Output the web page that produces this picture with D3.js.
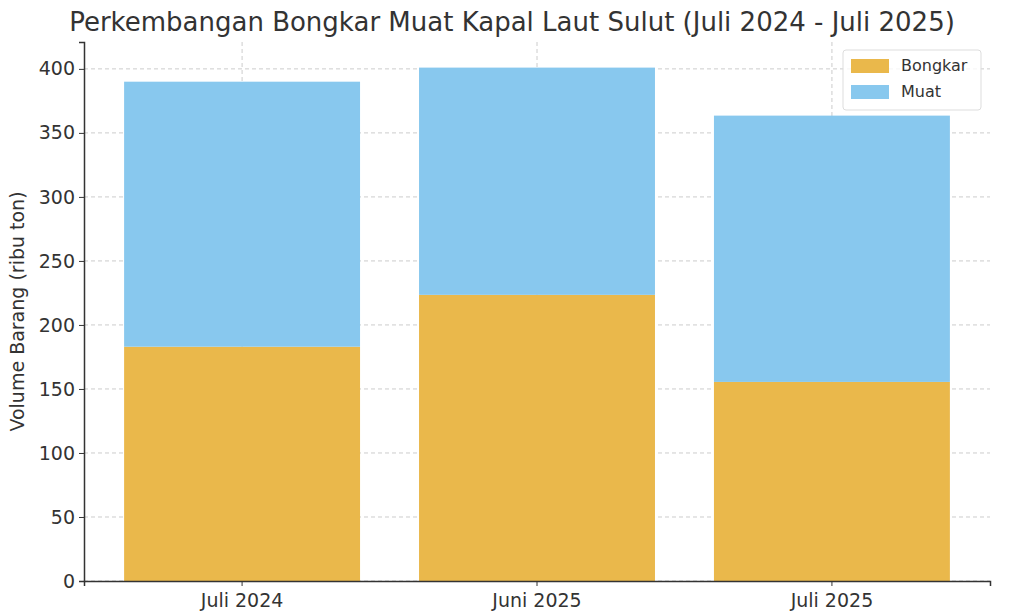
<!DOCTYPE html>
<html><head><meta charset="utf-8">
<script src="https://cdn.jsdelivr.net/npm/d3@7"></script>
<style>body{margin:0;background:#fff}text{font-family:"DejaVu Sans",sans-serif}</style>
</head><body>
<script>
var periods = ["Juli 2024", "Juni 2025", "Juli 2025"];
var bongkar = [183, 223.5, 155.5];
var muat = [207, 177.5, 208];
var yTicks = [0, 50, 100, 150, 200, 250, 300, 350, 400];

var w = 1024, h = 614;
var m = {left: 84, right: 34, top: 42, bottom: 33};
var svg = d3.select("body").append("svg").attr("width", w).attr("height", h);

var x = d3.scaleBand().domain(periods).range([m.left, w - m.right]).paddingInner(0.2).paddingOuter(0.136);
var y = d3.scaleLinear().domain([0, 421]).range([h - m.bottom, m.top]);

// grid
svg.append("g").selectAll("line").data(yTicks).enter().append("line")
  .attr("x1", m.left).attr("x2", w - m.right)
  .attr("y1", function(d) { return y(d); }).attr("y2", function(d) { return y(d); })
  .attr("stroke", "#ccc").attr("stroke-dasharray", "4,3");
svg.append("g").selectAll("line").data(periods).enter().append("line")
  .attr("x1", function(d) { return x(d) + x.bandwidth() / 2; })
  .attr("x2", function(d) { return x(d) + x.bandwidth() / 2; })
  .attr("y1", m.top).attr("y2", h - m.bottom)
  .attr("stroke", "#ccc").attr("stroke-dasharray", "4,3");

// bars
svg.append("g").selectAll("rect").data(periods).enter().append("rect")
  .attr("x", function(d) { return x(d); }).attr("width", x.bandwidth())
  .attr("y", function(d, i) { return y(bongkar[i]); })
  .attr("height", function(d, i) { return y(0) - y(bongkar[i]); })
  .attr("fill", "#EAB84B");
svg.append("g").selectAll("rect").data(periods).enter().append("rect")
  .attr("x", function(d) { return x(d); }).attr("width", x.bandwidth())
  .attr("y", function(d, i) { return y(bongkar[i] + muat[i]); })
  .attr("height", function(d, i) { return y(bongkar[i]) - y(bongkar[i] + muat[i]); })
  .attr("fill", "#88C8EE");

// axes
var xa = svg.append("g").attr("transform", "translate(0," + (h - m.bottom) + ")")
  .call(d3.axisBottom(x).tickSizeOuter(0).tickSize(5).tickPadding(4));
var ya = svg.append("g").attr("transform", "translate(" + m.left + ",0)")
  .call(d3.axisLeft(y).tickValues(yTicks).tickSizeOuter(0).tickSize(5).tickPadding(4));
[xa, ya].forEach(function(a) {
  a.selectAll("text").attr("font-size", 19).attr("fill", "#333").style("font-family", "DejaVu Sans");
  a.selectAll("line,path").attr("stroke", "#333");
  a.select(".domain").attr("stroke-width", 1.5);
});
xa.selectAll("text").attr("dy", "0.9em");

svg.append("text").attr("x", 512).attr("y", 31).attr("text-anchor", "middle")
  .attr("font-size", 26).attr("fill", "#333")
  .text("Perkembangan Bongkar Muat Kapal Laut Sulut (Juli 2024 - Juli 2025)");
svg.append("text").attr("transform", "translate(24," + ((m.top + h - m.bottom) / 2) + ") rotate(-90)")
  .attr("text-anchor", "middle").attr("font-size", 19).attr("fill", "#333")
  .text("Volume Barang (ribu ton)");

// legend
var lg = svg.append("g").attr("transform", "translate(843,50)");
lg.append("rect").attr("width", 138).attr("height", 60).attr("rx", 3)
  .attr("fill", "#fff").attr("fill-opacity", 0.8).attr("stroke", "#ddd");
[["Bongkar", "#EAB84B"], ["Muat", "#88C8EE"]].forEach(function(d, i) {
  lg.append("rect").attr("x", 8).attr("y", 9 + i * 26).attr("width", 38).attr("height", 14).attr("fill", d[1]);
  lg.append("text").attr("x", 58).attr("y", 21 + i * 26).attr("font-size", 16).attr("fill", "#333").text(d[0]);
});
</script>
</body></html>
